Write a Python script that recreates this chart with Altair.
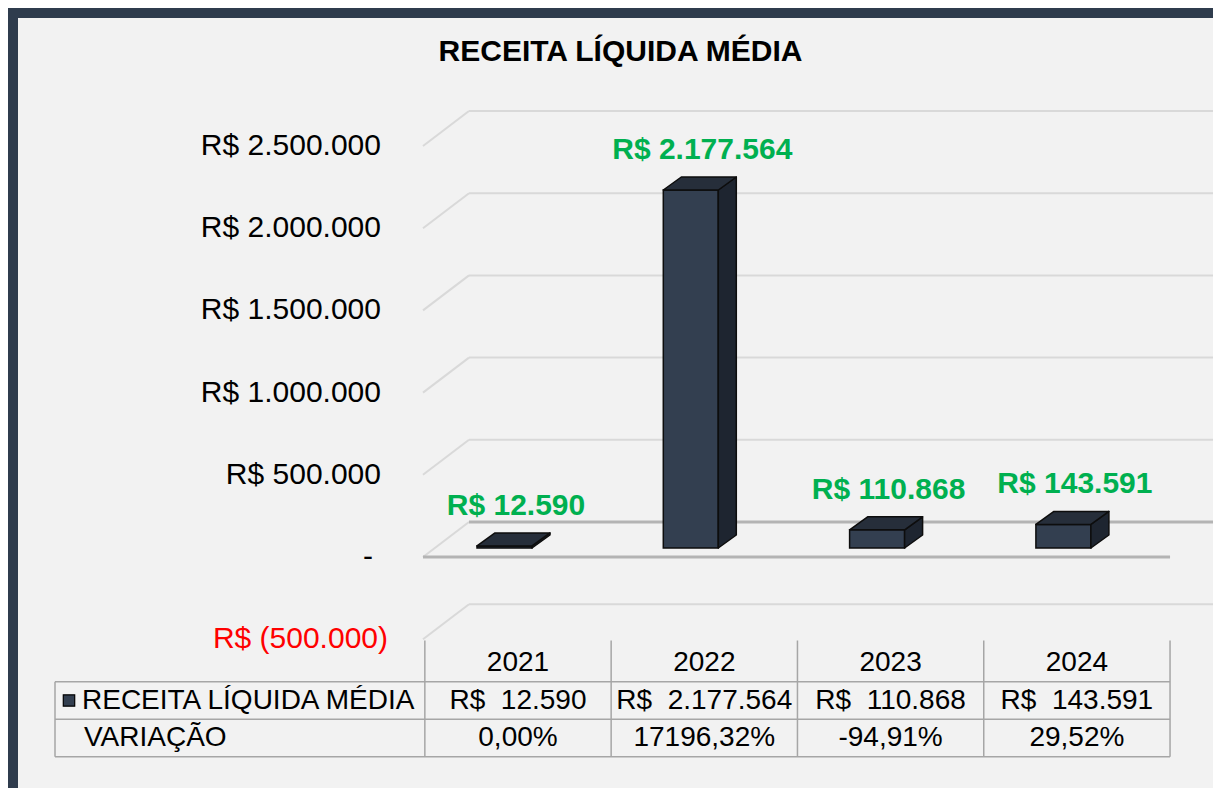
import altair as alt
import pandas as pd

# ---------------- data ----------------
years = ["2021", "2022", "2023", "2024"]
receita = [12590, 2177564, 110868, 143591]
bar_labels = ["R$ 12.590", "R$ 2.177.564", "R$ 110.868", "R$ 143.591"]
table_receita = ["R$\u00a0 12.590", "R$\u00a0 2.177.564", "R$\u00a0 110.868", "R$\u00a0 143.591"]
table_variacao = ["0,00%", "17196,32%", "-94,91%", "29,52%"]
row_names = ["RECEITA LÍQUIDA MÉDIA", "VARIAÇÃO"]
tick_values = [-500000, 0, 500000, 1000000, 1500000, 2000000, 2500000]
tick_labels = ["R$ (500.000)", "-", "R$ 500.000", "R$ 1.000.000",
               "R$ 1.500.000", "R$ 2.000.000", "R$ 2.500.000"]
chart_title = "RECEITA LÍQUIDA MÉDIA"

# ---------------- layout (pixels) ----------------
VIEW_W, VIEW_H = 1195, 770
ORG = 18                      # page offset of the view (8 margin + 10 frame)
PX_U = 186.3                  # px per category step
X0 = 518 - ORG                # view x of first category centre
PX_V = 164.4 / 1e6            # px per value unit (front plane)
Y0 = 557 - ORG                # view y of value 0 (front plane)
PX_R = 37.5                   # px per table row
R0 = 663 - ORG                # view y of table header row

def U(page_x):
    return (page_x - ORG - X0) / PX_U

def V(px):
    return px / PX_V

XDOM = [-X0 / PX_U, (VIEW_W - X0) / PX_U]
YDOM = [(Y0 - VIEW_H) / PX_V, Y0 / PX_V]
RDOM = [-R0 / PX_R, (VIEW_H - R0) / PX_R]

xs = alt.Scale(domain=XDOM, nice=False, zero=False)
ys = alt.Scale(domain=YDOM, nice=False, zero=False)
rs = alt.Scale(domain=RDOM, nice=False, zero=False, reverse=True)

WALL_DU, WALL_DV = 46 / PX_U, V(35)
LEFT_U = U(423)
RIGHT_U = len(years) - 0.5

BAR_W = 55 / PX_U
BAR_SHIFT = -13.5 / PX_U
DEP_U, DEP_V = 18 / PX_U, V(13)
BASE_V = V(9)
LBL_SHIFT = -2 / PX_U

FONT = "Liberation Sans"
NAVY = "#333f50"

# ---------------- grid / floor ----------------
grid_rows, floor_dark, floor_light = [], [], []
for v in tick_values:
    if v == 0:
        floor_dark.append(dict(x=LEFT_U, y=0, x2=RIGHT_U, y2=0))
        floor_dark.append(dict(x=LEFT_U + WALL_DU, y=WALL_DV, x2=RIGHT_U + WALL_DU, y2=WALL_DV))
        floor_light.append(dict(x=LEFT_U, y=0, x2=LEFT_U + WALL_DU, y2=WALL_DV))
    else:
        grid_rows.append(dict(x=LEFT_U, y=v, x2=LEFT_U + WALL_DU, y2=v + WALL_DV))
        grid_rows.append(dict(x=LEFT_U + WALL_DU, y=v + WALL_DV, x2=RIGHT_U + WALL_DU, y2=v + WALL_DV))


def seg_layer(rows, color, width):
    return alt.Chart(pd.DataFrame(rows)).mark_rule(color=color, strokeWidth=width).encode(
        x=alt.X("x:Q", scale=xs, axis=None), x2="x2:Q",
        y=alt.Y("y:Q", scale=ys, axis=None), y2="y2:Q")

grid = seg_layer(grid_rows, "#d9d9d9", 2)
floor_l = seg_layer(floor_light, "#d9d9d9", 2)
floor_d = seg_layer(floor_dark, "#b4b4b4", 3)

# ---------------- 3D bars ----------------
front, side, top, labels = [], [], [], []
for i, (yr, val, lab) in enumerate(zip(years, receita, bar_labels)):
    x0 = i + BAR_SHIFT - BAR_W / 2
    x1 = i + BAR_SHIFT + BAR_W / 2
    vt = BASE_V + val
    front.append(dict(bar=yr, x=x0, x2=x1, y=BASE_V, y2=vt))
    side.append(dict(bar=yr, x=x1, lo=BASE_V, hi=vt))
    side.append(dict(bar=yr, x=x1 + DEP_U, lo=BASE_V + DEP_V, hi=vt + DEP_V))
    top.append(dict(bar=yr, x=x0, lo=vt, hi=vt))
    top.append(dict(bar=yr, x=x0 + DEP_U, lo=vt, hi=vt + DEP_V))
    top.append(dict(bar=yr, x=x1, lo=vt, hi=vt + DEP_V))
    top.append(dict(bar=yr, x=x1 + DEP_U, lo=vt + DEP_V, hi=vt + DEP_V))
    labels.append(dict(bar=yr, x=i + LBL_SHIFT, y=vt + DEP_V, t=lab))

front_l = alt.Chart(pd.DataFrame(front)).mark_rect(
    color=NAVY, stroke="#0d0d0d", strokeWidth=1.5).encode(
    x=alt.X("x:Q", scale=xs, axis=None), x2="x2:Q",
    y=alt.Y("y:Q", scale=ys, axis=None), y2="y2:Q")

side_l = alt.Chart(pd.DataFrame(side)).mark_area(
    orient="vertical", color="#1e2530", stroke="#0d0d0d", strokeWidth=1.5,
    strokeJoin="round").encode(
    x=alt.X("x:Q", scale=xs, axis=None),
    y=alt.Y("hi:Q", scale=ys, axis=None), y2="lo:Q", detail="bar:N")

top_l = alt.Chart(pd.DataFrame(top)).mark_area(
    orient="vertical", color="#262e3a", stroke="#0d0d0d", strokeWidth=1.5,
    strokeJoin="round").encode(
    x=alt.X("x:Q", scale=xs, axis=None),
    y=alt.Y("hi:Q", scale=ys, axis=None), y2="lo:Q", detail="bar:N")

label_l = alt.Chart(pd.DataFrame(labels)).mark_text(
    font=FONT, fontSize=30, fontWeight="bold", color="#00b050",
    align="center", baseline="middle", dy=-27).encode(
    x=alt.X("x:Q", scale=xs, axis=None),
    y=alt.Y("y:Q", scale=ys, axis=None), text="t:N")

# ---------------- value axis labels ----------------
ax_rows = []
for v, t in zip(tick_values, tick_labels):
    if v > 0:
        ax_rows.append(dict(v=v, t=t, x=U(381), kind="pos"))
    elif v == 0:
        ax_rows.append(dict(v=v, t=t, x=U(368), kind="zero"))
    else:
        ax_rows.append(dict(v=v, t=t, x=U(388), kind="neg"))
ax_df = pd.DataFrame(ax_rows)

axis_right = alt.Chart(ax_df).transform_filter("datum.kind != 'zero'").mark_text(
    font=FONT, fontSize=30, align="right", baseline="middle").encode(
    x=alt.X("x:Q", scale=xs, axis=None),
    y=alt.Y("v:Q", scale=ys, axis=None), text="t:N",
    color=alt.condition("datum.v < 0", alt.value("#ff0000"), alt.value("#000000")))
axis_zero = alt.Chart(ax_df).transform_filter("datum.kind == 'zero'").mark_text(
    font=FONT, fontSize=30, align="center", baseline="middle", color="#000000").encode(
    x=alt.X("x:Q", scale=xs, axis=None),
    y=alt.Y("v:Q", scale=ys, axis=None), text="t:N")

# ---------------- data table ----------------
TBL_LEFT = U(55)
tl = []
for r in (0.5, 1.5, 2.5):
    tl.append(dict(x=TBL_LEFT, r=r, x2=RIGHT_U, r2=r))
for k in range(len(years) + 1):
    tl.append(dict(x=k - 0.5, r=-0.6, x2=k - 0.5, r2=2.5))
tl.append(dict(x=TBL_LEFT, r=0.5, x2=TBL_LEFT, r2=2.5))
table_lines = alt.Chart(pd.DataFrame(tl)).mark_rule(color="#a6a6a6", strokeWidth=1.5).encode(
    x=alt.X("x:Q", scale=xs, axis=None), x2="x2:Q",
    y=alt.Y("r:Q", scale=rs, axis=None), y2="r2:Q")

cells = []
for i, yr in enumerate(years):
    cells.append(dict(x=i, r=0, t=yr))
    cells.append(dict(x=i, r=1, t=table_receita[i]))
    cells.append(dict(x=i, r=2, t=table_variacao[i]))
cell_l = alt.Chart(pd.DataFrame(cells)).mark_text(
    font=FONT, fontSize=28, align="center", baseline="middle", color="#000000").encode(
    x=alt.X("x:Q", scale=xs, axis=None),
    y=alt.Y("r:Q", scale=rs, axis=None), text="t:N")

rowlab = pd.DataFrame([dict(x=U(82), r=1, t=row_names[0]),
                       dict(x=U(84), r=2, t=row_names[1])])
rowlab_l = alt.Chart(rowlab).mark_text(
    font=FONT, fontSize=28, align="left", baseline="middle", color="#000000").encode(
    x=alt.X("x:Q", scale=xs, axis=None),
    y=alt.Y("r:Q", scale=rs, axis=None), text="t:N")

legend_l = alt.Chart(pd.DataFrame([dict(x=U(69), r=1)])).mark_square(
    size=130, filled=True, color=NAVY, stroke="#000000", strokeWidth=1.2, opacity=1).encode(
    x=alt.X("x:Q", scale=xs, axis=None),
    y=alt.Y("r:Q", scale=rs, axis=None))

chart = alt.layer(
    grid, floor_l, floor_d,
    front_l, side_l, top_l, label_l,
    axis_right, axis_zero,
    table_lines, cell_l, rowlab_l, legend_l,
).resolve_scale(y="independent").properties(
    width=VIEW_W, height=VIEW_H,
    autosize=alt.AutoSizeParams(type="none"),
    padding={"left": 10, "top": 10, "right": 0, "bottom": 0},
    background="#2f3c4d",
    title=alt.TitleParams(chart_title, font=FONT, fontSize=30, fontWeight="bold",
                          color="#000000", anchor="middle", frame="group",
                          baseline="alphabetic", offset=-73, dx=5),
).configure_view(fill="#f2f2f2", stroke=None)

chart.save("out.html", embed_options={"renderer": "svg", "actions": False})
